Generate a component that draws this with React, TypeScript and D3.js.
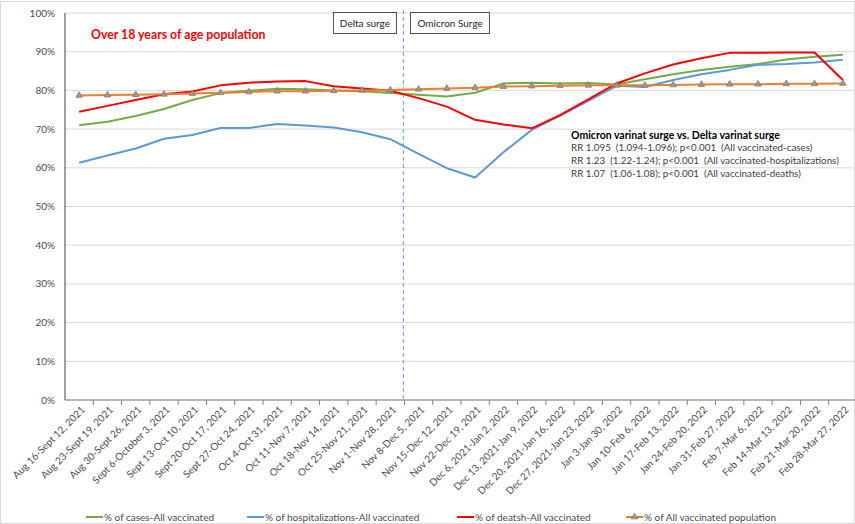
import React from "react";
import * as d3 from "d3";

const categories = [
  "Aug 16-Sept 12, 2021", "Aug 23-Sept 19, 2021", "Aug 30-Sept 26, 2021", "Sept 6-October 3, 2021",
  "Sept 13-Oct 10, 2021", "Sept 20-Oct 17, 2021", "Sept 27-Oct 24, 2021", "Oct 4-Oct 31, 2021",
  "Oct 11-Nov 7, 2021", "Oct 18-Nov 14, 2021", "Oct 25-Nov 21, 2021", "Nov 1-Nov 28, 2021",
  "Nov 8-Dec 5, 2021", "Nov 15-Dec 12, 2021", "Nov 22-Dec 19, 2021", "Dec 6, 2021-Jan 2, 2022",
  "Dec 13, 2021-Jan 9, 2022", "Dec 20, 2021-Jan 16, 2022", "Dec 27, 2021-Jan 23, 2022", "Jan 3-Jan 30, 2022",
  "Jan 10-Feb 6, 2022", "Jan 17-Feb 13, 2022", "Jan 24-Feb 20, 2022", "Jan 31-Feb 27, 2022",
  "Feb 7-Mar 6, 2022", "Feb 14-Mar 13, 2022", "Feb 21-Mar 20, 2022", "Feb 28-Mar 27, 2022",
];

const casesPct = [71.0, 71.9, 73.4, 75.2, 77.5, 79.3, 79.9, 80.4, 80.3, 80.0, 79.8, 79.3, 78.9, 78.4,
  79.4, 81.8, 82.0, 81.8, 81.9, 81.5, 82.9, 84.2, 85.3, 86.1, 86.8, 88.0, 88.7, 89.2];
const hospPct = [61.3, 63.2, 65.0, 67.5, 68.5, 70.3, 70.3, 71.3, 70.9, 70.4, 69.2, 67.4, 63.6, 59.9,
  57.5, 64.0, 69.8, 73.4, 77.3, 81.2, 80.9, 82.7, 84.2, 85.3, 86.6, 86.8, 87.2, 87.9];
const deathsPct = [74.5, 76.0, 77.5, 79.0, 79.7, 81.3, 82.0, 82.3, 82.4, 81.1, 80.5, 79.9, 78.0, 75.8,
  72.4, 71.2, 70.2, 73.6, 77.7, 81.8, 84.4, 86.7, 88.3, 89.7, 89.7, 89.8, 89.8, 82.7];
const populationPct = [78.7, 78.8, 78.9, 79.0, 79.2, 79.4, 79.6, 79.8, 79.8, 79.9, 80.0, 80.1, 80.3, 80.5,
  80.7, 81.0, 81.1, 81.2, 81.3, 81.3, 81.3, 81.4, 81.5, 81.6, 81.6, 81.7, 81.7, 81.8];

const yTicks = [0, 10, 20, 30, 40, 50, 60, 70, 80, 90, 100];

const seriesNames = [
  "% of cases-All vaccinated",
  "% of hospitalizations-All vaccinated",
  "% of deatsh-All vaccinated",
  "% of All vaccinated population",
];
const titleText = "Over 18 years of age population";
const surgeLabels = ["Delta surge", "Omicron Surge"];
const statsTitle = "Omicron varinat surge vs. Delta varinat surge";
const statsLines = [
  "RR 1.095  (1.094-1.096); p<0.001  (All vaccinated-cases)",
  "RR 1.23  (1.22-1.24); p<0.001  (All vaccinated-hospitalizations)",
  "RR 1.07  (1.06-1.08); p<0.001  (All vaccinated-deaths)",
];
const surgeBoundaryIndex = 12;

const W = 855;
const H = 524;
const LEFT = 65;
const RIGHT = 857;
const TOP = 13;
const BOTTOM = 400;
const FONT = "Lato, Carlito, 'Open Sans', sans-serif";
const GRAY = "#4d4d4d";

const COLORS = {
  cases: "#70AD47",
  hosp: "#5B9BD5",
  deaths: "#FF0000",
  pop: "#ED7D31",
};

export default function App() {
  const x = d3.scaleBand<string>().domain(categories).range([LEFT, RIGHT]).padding(0);
  const y = d3.scaleLinear().domain([0, 100]).range([BOTTOM, TOP]);
  const cx = (i: number) => (x(categories[i]) as number) + x.bandwidth() / 2;
  const line = d3
    .line<number>()
    .x((_, i) => cx(i))
    .y((d) => y(d));
  const tri = d3.symbol().type(d3.symbolTriangle).size(18)() as string;
  const boundaryX = x(categories[surgeBoundaryIndex]) as number;

  const legendItems = [
    { name: seriesNames[0], color: COLORS.cases, x0: 86, marker: false },
    { name: seriesNames[1], color: COLORS.hosp, x0: 247, marker: false },
    { name: seriesNames[2], color: COLORS.deaths, x0: 457, marker: false },
    { name: seriesNames[3], color: COLORS.pop, x0: 626, marker: true },
  ];

  return (
    <svg
      width={W}
      height={H}
      style={{ position: "absolute", left: 0, top: 0, background: "#fff" }}
      fontFamily={FONT}
    >
      <rect x={0.5} y={1.5} width={W - 1} height={H - 2} fill="#fff" stroke="#d9d9d9" />

      {/* gridlines */}
      {yTicks.map((t) => (
        <line key={"g" + t} x1={LEFT} x2={RIGHT} y1={y(t)} y2={y(t)} stroke="#d9d9d9" strokeWidth={1} />
      ))}

      {/* y tick labels */}
      {yTicks.map((t) => (
        <text key={"yl" + t} x={55} y={y(t)} dy="0.35em" textAnchor="end" fontSize={10} fill={GRAY}>
          {t + "%"}
        </text>
      ))}

      {/* axes */}
      <line x1={LEFT} x2={LEFT} y1={TOP} y2={BOTTOM} stroke="#404040" strokeWidth={1} />
      <line x1={LEFT} x2={RIGHT} y1={BOTTOM} y2={BOTTOM} stroke="#808080" strokeWidth={1} />
      {categories.map((c, i) => (
        <line
          key={"t" + i}
          x1={(x(c) as number) + x.bandwidth()}
          x2={(x(c) as number) + x.bandwidth()}
          y1={BOTTOM}
          y2={BOTTOM + 5}
          stroke="#808080"
        />
      ))}

      {/* x labels */}
      {categories.map((c, i) => (
        <text
          key={"xl" + i}
          transform={`translate(${cx(i) + 4},${BOTTOM + 8}) rotate(-45)`}
          textAnchor="end"
          dy="0.35em"
          fontSize={10}
          fill={GRAY}
        >
          {c}
        </text>
      ))}

      {/* surge divider */}
      <line
        x1={boundaryX - 1}
        x2={boundaryX - 1}
        y1={10}
        y2={BOTTOM}
        stroke="#5B9BD5"
        strokeOpacity={0.8}
        strokeWidth={1.2}
        strokeDasharray="4,3"
      />

      {/* series lines */}
      <path d={line(casesPct) as string} fill="none" stroke={COLORS.cases} strokeWidth={2} strokeLinejoin="round" />
      <path d={line(hospPct) as string} fill="none" stroke={COLORS.hosp} strokeWidth={2} strokeLinejoin="round" />
      <path d={line(deathsPct) as string} fill="none" stroke={COLORS.deaths} strokeWidth={2} strokeLinejoin="round" />
      <path d={line(populationPct) as string} fill="none" stroke={COLORS.pop} strokeWidth={2} strokeLinejoin="round" />
      {populationPct.map((v, i) => (
        <path
          key={"m" + i}
          d={tri}
          transform={`translate(${cx(i)},${y(v)})`}
          fill="#A5958A"
          stroke="#8C7A6E"
          strokeWidth={0.8}
        />
      ))}

      {/* title */}
      <text x={91} y={35} dy="0.35em" fontSize={12.3} fontWeight="bold" fill="#FF0000">
        {titleText}
      </text>

      {/* surge boxes */}
      <rect x={boundaryX - 71} y={12.5} width={63} height={21} fill="#fff" stroke={GRAY} strokeWidth={1} />
      <text x={boundaryX - 39.5} y={23} dy="0.35em" textAnchor="middle" fontSize={10} fill="#262626">
        {surgeLabels[0]}
      </text>
      <rect x={boundaryX + 6} y={12.5} width={79} height={21} fill="#fff" stroke={GRAY} strokeWidth={1} />
      <text x={boundaryX + 13} y={23} dy="0.35em" fontSize={10} fill="#262626">
        {surgeLabels[1]}
      </text>

      {/* stats annotation */}
      <text x={571} y={135} dy="0.35em" fontSize={10.5} fontWeight="bold" fill="#000">
        {statsTitle}
      </text>
      {statsLines.map((s, i) => (
        <text key={"s" + i} x={571} y={148 + i * 13} dy="0.35em" fontSize={9.8} fill="#404040" style={{ whiteSpace: "pre" }}>
          {s}
        </text>
      ))}

      {/* legend */}
      {legendItems.map((it, i) => (
        <g key={"lg" + i}>
          <line x1={it.x0} x2={it.x0 + 17} y1={517} y2={517} stroke={it.color} strokeWidth={2} />
          {it.marker && (
            <path d={tri} transform={`translate(${it.x0 + 8.5},517)`} fill="#A5958A" stroke="#8C7A6E" strokeWidth={0.8} />
          )}
          <text x={it.x0 + 18} y={517} dy="0.35em" fontSize={10} fill={GRAY}>
            {it.name}
          </text>
        </g>
      ))}
    </svg>
  );
}
